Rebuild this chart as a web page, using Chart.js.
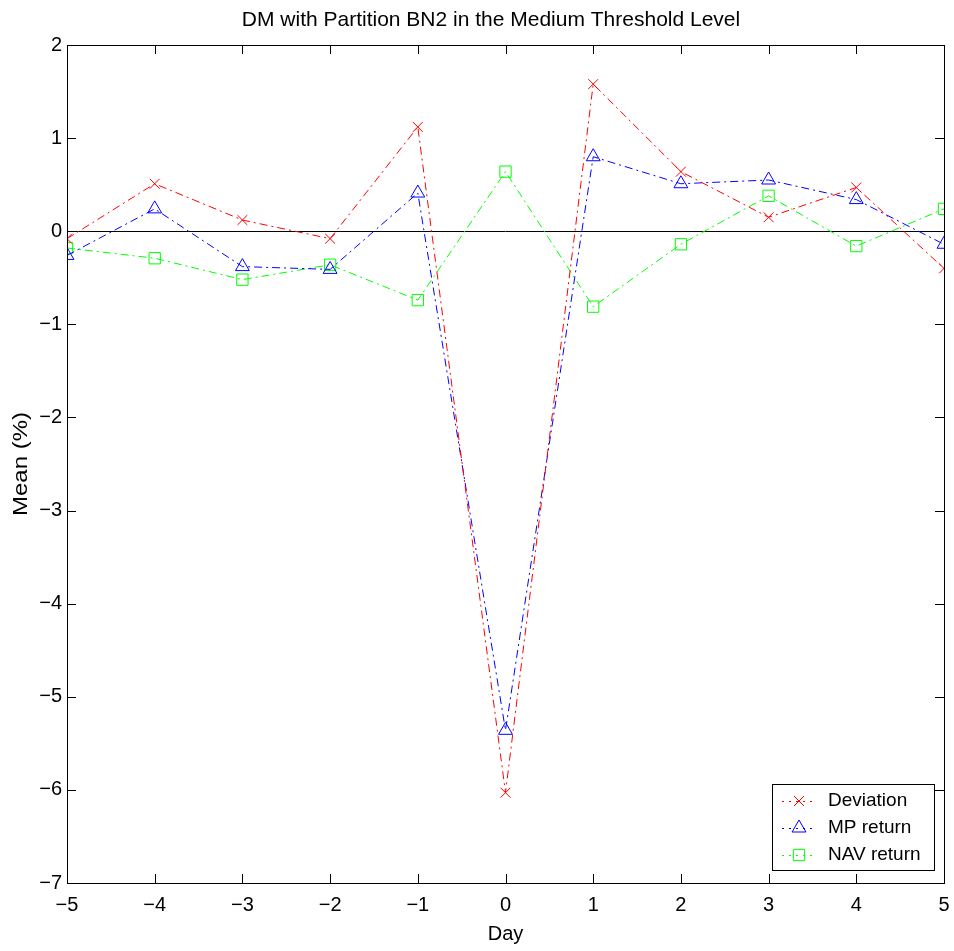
<!DOCTYPE html>
<html>
<head>
<meta charset="utf-8">
<script src="https://cdn.jsdelivr.net/npm/chart.js@4/dist/chart.umd.min.js"></script>
<style>
  html, body { margin: 0; padding: 0; background: #fff; overflow: hidden; }
  #chart { display: block; }
</style>
</head>
<body>
<canvas id="chart" width="954" height="951"></canvas>
<script>
// ===== data =====
const days = [-5, -4, -3, -2, -1, 0, 1, 2, 3, 4, 5];
const deviation = [-0.08, 0.51, 0.12, -0.08, 1.12, -6.03, 1.58, 0.64, 0.15, 0.47, -0.40];
const mpReturn  = [-0.26, 0.24, -0.38, -0.41, 0.41, -5.36, 0.80, 0.51, 0.55, 0.34, -0.14];
const navReturn = [-0.18, -0.29, -0.52, -0.36, -0.74, 0.64, -0.81, -0.14, 0.38, -0.16, 0.24];
const xTicks = [-5, -4, -3, -2, -1, 0, 1, 2, 3, 4, 5];
const yTicks = [2, 1, 0, -1, -2, -3, -4, -5, -6, -7];

const FONT = "'Liberation Sans', Arial, Helvetica, sans-serif";
const DASHDOT = [8, 4, 2, 4];

const toPoints = vals => days.map((d, i) => ({ x: d, y: vals[i] }));
const fmt = v => (v < 0 ? "\u2212" + Math.abs(v) : String(v));

// 枠・内向き目盛り・ゼロ線・タイトル類
const framePlugin = {
  id: "frame",
  beforeDatasetsDraw(chart) {
    const { ctx, chartArea: a, scales } = chart;
    const y0 = scales.y.getPixelForValue(0);
    ctx.save();
    ctx.strokeStyle = "#000";
    ctx.lineWidth = 1;
    ctx.beginPath();
    ctx.moveTo(a.left, Math.round(y0) + 0.5);
    ctx.lineTo(a.right, Math.round(y0) + 0.5);
    ctx.stroke();
    ctx.restore();
  },
  afterDraw(chart) {
    const { ctx, chartArea: a, scales } = chart;
    const L = 9;
    ctx.save();
    ctx.strokeStyle = "#000";
    ctx.lineWidth = 1;
    ctx.strokeRect(Math.round(a.left) + 0.5, Math.round(a.top) + 0.5,
      Math.round(a.right - a.left), Math.round(a.bottom - a.top));
    ctx.beginPath();
    xTicks.forEach(v => {
      const px = Math.round(scales.x.getPixelForValue(v)) + 0.5;
      ctx.moveTo(px, a.bottom); ctx.lineTo(px, a.bottom - L);
      ctx.moveTo(px, a.top); ctx.lineTo(px, a.top + L);
    });
    yTicks.forEach(v => {
      const py = Math.round(scales.y.getPixelForValue(v)) + 0.5;
      ctx.moveTo(a.left, py); ctx.lineTo(a.left + L, py);
      ctx.moveTo(a.right, py); ctx.lineTo(a.right - L, py);
    });
    ctx.stroke();

    ctx.fillStyle = "#000";
    ctx.textAlign = "center";
    ctx.textBaseline = "alphabetic";
    ctx.font = "21px " + FONT;
    ctx.fillText("DM with Partition BN2 in the Medium Threshold Level", 491, 26);
    ctx.font = "20px " + FONT;
    ctx.fillText("Day", (a.left + a.right) / 2, 940);
    ctx.translate(27, (a.top + a.bottom) / 2);
    ctx.rotate(-Math.PI / 2);
    ctx.scale(1.2, 1);
    ctx.fillText("Mean (%)", 0, 0);
    ctx.restore();

    // 凡例
    const box = { x: 772, y: 784, w: 162, h: 86 };
    ctx.save();
    ctx.fillStyle = "#fff";
    ctx.fillRect(box.x, box.y, box.w, box.h);
    ctx.strokeStyle = "#000";
    ctx.lineWidth = 1;
    ctx.strokeRect(box.x + 0.5, box.y + 0.5, box.w, box.h);
    ctx.font = "19px " + FONT;
    ctx.textAlign = "left";
    ctx.textBaseline = "middle";
    chart.data.datasets.forEach((ds, i) => {
      const cy = box.y + 17 + i * 27;
      ctx.strokeStyle = ds.borderColor;
      ctx.setLineDash([2, 5]);
      ctx.beginPath();
      ctx.moveTo(box.x + 10, cy + 0.5);
      ctx.lineTo(box.x + 42, cy + 0.5);
      ctx.stroke();
      ctx.setLineDash([]);
      ctx.fillStyle = "rgba(0,0,0,0)";
      Chart.helpers.drawPoint(ctx, {
        pointStyle: ds.pointStyle, radius: ds.pointRadius, rotation: 0,
        borderWidth: 1
      }, box.x + 27, cy);
      ctx.fillStyle = "#000";
      ctx.fillText(ds.label, box.x + 56, cy);
    });
    ctx.restore();
  }
};

const series = (label, vals, color, style, r) => ({
  label,
  data: toPoints(vals),
  borderColor: color,
  backgroundColor: "rgba(0,0,0,0)",
  borderWidth: 1,
  borderDash: DASHDOT,
  pointStyle: style,
  pointRadius: r,
  pointBorderColor: color,
  pointBackgroundColor: "rgba(0,0,0,0)",
  pointBorderWidth: 1,
  tension: 0,
  fill: false
});

new Chart(document.getElementById("chart"), {
  type: "line",
  data: {
    datasets: [
      series("Deviation", deviation, "#ff0000", "crossRot", 7),
      series("MP return", mpReturn, "#0000ff", "triangle", 8),
      series("NAV return", navReturn, "#00ff00", "rect", 8)
    ]
  },
  options: {
    responsive: false,
    animation: false,
    layout: { padding: { top: 45, right: 10, left: 0, bottom: 0 } },
    plugins: {
      legend: { display: false },
      title: { display: false },
      tooltip: { enabled: false }
    },
    scales: {
      x: {
        type: "linear",
        min: -5, max: 5,
        afterBuildTicks: s => { s.ticks = xTicks.map(v => ({ value: v })); },
        // ラベルのはみ出し分の余白は使わない
        afterFit: s => { s.height = 68; s.paddingLeft = 0; s.paddingRight = 0; },
        grid: { display: false, drawTicks: false },
        border: { display: false },
        ticks: { color: "#000", font: { family: FONT, size: 20 }, padding: 10, maxRotation: 0, callback: fmt }
      },
      y: {
        min: -7, max: 2,
        afterBuildTicks: s => { s.ticks = yTicks.map(v => ({ value: v })); },
        afterFit: s => { s.width = 67; },
        grid: { display: false, drawTicks: false },
        border: { display: false },
        ticks: { color: "#000", font: { family: FONT, size: 20 }, padding: 5, callback: fmt }
      }
    }
  },
  plugins: [framePlugin]
});
</script>
</body>
</html>
